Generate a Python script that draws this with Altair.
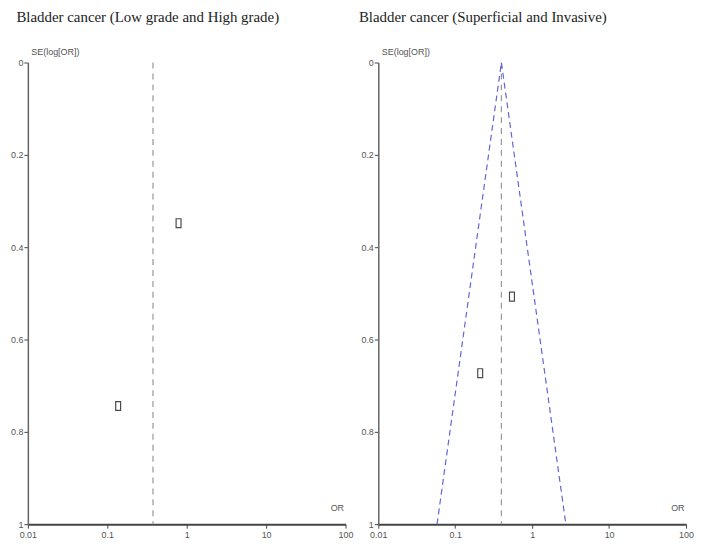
import altair as alt
import pandas as pd

# ---- data ----
left_title = "Bladder cancer (Low grade and High grade)"
right_title = "Bladder cancer (Superficial and Invasive)"

left_or = [0.79, 0.137]
left_se = [0.348, 0.744]
left_pooled = 0.376

right_or = [0.546, 0.211]
right_se = [0.507, 0.673]
right_pooled = 0.398
funnel_or = [0.058, 0.398, 2.74]
funnel_se = [1.0, 0.0, 1.0]

x_ticks = [0.01, 0.1, 1, 10, 100]
y_ticks = [0, 0.2, 0.4, 0.6, 0.8, 1]

H = 465
AX_FONT = "Liberation Sans Narrow, Liberation Sans, Arial, sans-serif"
RECT = "M-0.55,-1V1H0.55V-1Z"

yscale = alt.Scale(domain=[0, 1], reverse=True, nice=False, zero=False)
xscale = alt.Scale(type="log", domain=[0.01, 100], nice=False)


def make_xaxis(w):
    return alt.Axis(values=x_ticks,
                    labelExpr="datum.value >= 1 ? format(datum.value, 'd') : format(datum.value, '')",
                    title="OR", titleAngle=0, titleX=w - 2, titleY=-12, titleAlign="right",
                    titleBaseline="bottom", titleFont=AX_FONT, titleFontSize=9, titleFontWeight="normal",
                    titleColor="#555", labelFont=AX_FONT, labelFontSize=9, labelColor="#555",
                    domainColor="#444", domainWidth=2, tickColor="#444", tickSize=4, labelPadding=2,
                    grid=False, labelFlush=False, labelOverlap=False)


yaxis = alt.Axis(values=y_ticks, format="", title="SE(log[OR])", titleAngle=0, titleX=3, titleY=-6,
                 titleAlign="left", titleBaseline="bottom", titleFont=AX_FONT, titleFontSize=9,
                 titleFontWeight="normal", titleColor="#555", labelFont=AX_FONT, labelFontSize=9,
                 labelColor="#555", domainColor="#666", domainWidth=1.5, tickColor="#444", tickSize=4,
                 labelPadding=1, grid=False, labelOverlap=False)


def panel(title, ors, ses, pooled, w, fun_or=None, fun_se=None, dx=0):
    pts = pd.DataFrame({"OR": ors, "SE": ses})
    base_pts = alt.Chart(pts).mark_point(shape=RECT, size=81, filled=False, stroke="black",
                                         strokeWidth=1.2).encode(
        x=alt.X("OR:Q", scale=xscale, axis=make_xaxis(w)),
        y=alt.Y("SE:Q", scale=yscale, axis=yaxis),
    )
    center = alt.Chart(pd.DataFrame({"OR": [pooled], "SE0": [0.0], "SE1": [1.0]})).mark_rule(
        color="#999", strokeDash=[6, 5], strokeWidth=1.2).encode(
        x=alt.X("OR:Q", scale=xscale),
        y=alt.Y("SE0:Q", scale=yscale),
        y2="SE1:Q",
    )
    layers = [center]
    if fun_or is not None:
        fdf = pd.DataFrame({"OR": fun_or, "SE": fun_se, "o": list(range(len(fun_or)))})
        funnel = alt.Chart(fdf).mark_line(color="#6464d8", strokeDash=[6, 4], strokeWidth=1.2).encode(
            x=alt.X("OR:Q", scale=xscale),
            y=alt.Y("SE:Q", scale=yscale),
            order="o:Q",
        )
        layers.append(funnel)
    layers.append(base_pts)
    return alt.layer(*layers).properties(
        width=w, height=H,
        title=alt.TitleParams(title, anchor="start", frame="bounds", font="Liberation Serif",
                              fontSize=15, fontWeight="normal", color="#222", offset=23, dx=dx),
    )


left = panel(left_title, left_or, left_se, left_pooled, 320, dx=6)
right = panel(right_title, right_or, right_se, right_pooled, 310, funnel_or, funnel_se, dx=-2)

chart = alt.hconcat(left, right, spacing=5).properties(
    padding={"left": 2, "top": 0, "right": 0, "bottom": 0}
).configure_view(stroke=None).configure_concat(spacing=5)

chart.save("out.html", embed_options={"renderer": "svg", "actions": False})
